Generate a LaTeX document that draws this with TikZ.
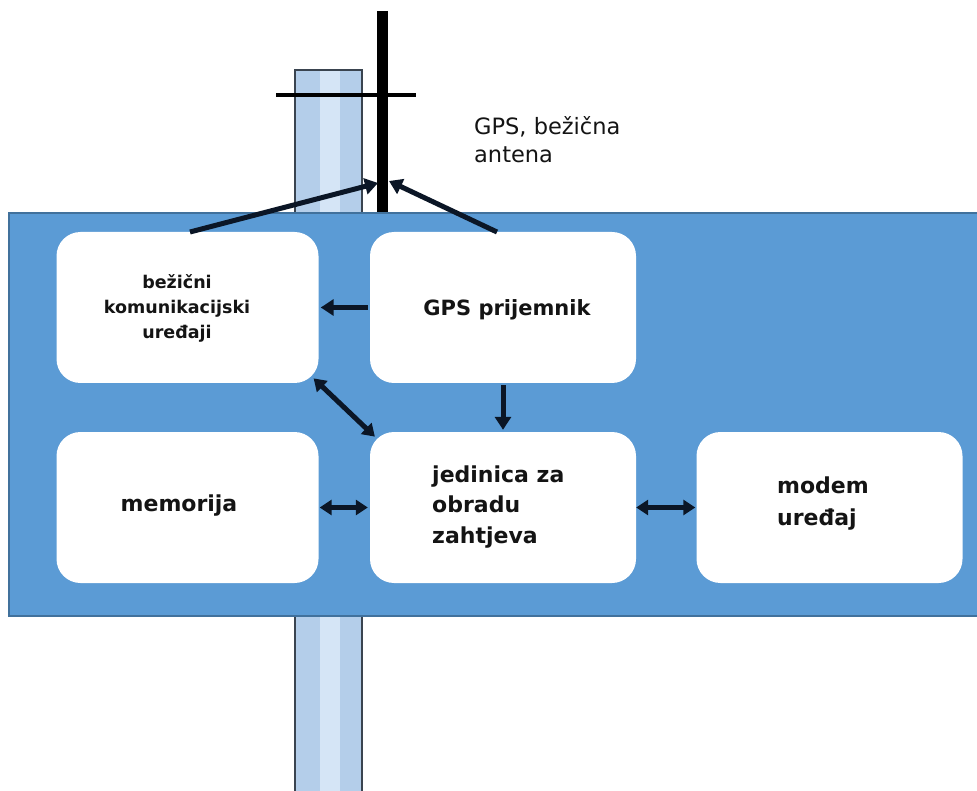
\documentclass[tikz,border=0pt]{standalone}
\usepackage{fontspec}
\setmainfont{DejaVu Sans}
\usetikzlibrary{arrows.meta}
\definecolor{panelblue}{HTML}{5B9BD5}
\definecolor{panelborder}{HTML}{41719C}
\definecolor{polefill}{HTML}{B4CEEA}
\definecolor{polestripe}{HTML}{D5E5F6}
\definecolor{poleedge}{HTML}{3A4450}
\definecolor{arrowc}{HTML}{0B1626}
\tikzset{
  box/.style={rectangle, rounded corners=24pt, fill=white, draw=none, inner sep=0pt},
  arr/.style={draw=arrowc, line width=5pt, -{Triangle[length=13pt,width=16pt]}},
  dbl/.style={draw=arrowc, line width=5pt, {Triangle[length=12pt,width=15pt]}-{Triangle[length=12pt,width=15pt]}},
  lbl/.style={inner sep=0pt, text=black!92},
}
\begin{document}
\begin{tikzpicture}[x=1pt,y=-1pt]
\useasboundingbox (0,0) rectangle (977,791);
\fill[white] (0,0) rectangle (977,791);
% pole
\fill[polefill] (295,70) rectangle (362,791);
\fill[polestripe] (320,70) rectangle (340,791);
\draw[poleedge, line width=1.4pt] (295,791) -- (295,70) -- (362,70) -- (362,791);
% crossbar
\draw[black, line width=3.5pt] (276,95) -- (416,95);
% antenna mast
\draw[black, line width=11pt] (382,11) -- (382,215);
% panel
\fill[panelblue] (9,213) rectangle (980,616);
\draw[panelborder, line width=1.6pt] (980,213) -- (9,213) -- (9,616) -- (980,616);
% boxes
\node[box, minimum width=262pt, minimum height=151pt] (bez) at (187.5,307.5) {};
\node[box, minimum width=266pt, minimum height=151pt] (gps) at (503,307.5) {};
\node[box, minimum width=262pt, minimum height=151pt] (mem) at (187.5,507.5) {};
\node[box, minimum width=266pt, minimum height=151pt] (jed) at (503,507.5) {};
\node[box, minimum width=266pt, minimum height=151pt] (mod) at (829.5,507.5) {};
% texts
\node[lbl, font=\fontsize{17.5}{25}\selectfont\bfseries, align=center] (tbez) at (177,308) {bežični\\komunikacijski\\ uređaji};
\node[lbl, font=\fontsize{21}{26}\selectfont\bfseries] (tgps) at (507,310) {GPS prijemnik};
\node[lbl, font=\fontsize{22}{28}\selectfont\bfseries] (tmem) at (179,506) {memorija};
\node[lbl, font=\fontsize{22}{30.5}\selectfont\bfseries, align=left, anchor=west] (tjed) at (432,507) {jedinica za\\obradu\\zahtjeva};
\node[lbl, font=\fontsize{22}{32}\selectfont\bfseries, align=left, anchor=west] (tmod) at (777,504) {modem\\uređaj};
\node[lbl, font=\fontsize{22.5}{28}\selectfont, align=left, anchor=west] (tant) at (474,140) {GPS, bežična\\antena};
% antenna arrow targets
\coordinate (antL) at (378,183);
\coordinate (antR) at (389,181);
\coordinate (bezTop) at (190,232);
\coordinate (gpsTop) at (497,232);
% connectors
\draw[arr] (bezTop) -- (antL);
\draw[arr] (gpsTop) -- (antR);
\draw[arr, shorten <=2pt, shorten >=2pt] (gps.west) -- (bez.east);
\draw[arr, shorten <=2pt, shorten >=2pt] (gps.south) -- (jed.north);
\draw[dbl, shorten <=-7pt, shorten >=-7pt] (bez.south east) -- (jed.north west);
\draw[dbl, shorten <=1pt, shorten >=2pt] (mem.east) -- (jed.west);
\draw[dbl, shorten <=0pt, shorten >=1pt] (jed.east) -- (mod.west);
\end{tikzpicture}
\end{document}
